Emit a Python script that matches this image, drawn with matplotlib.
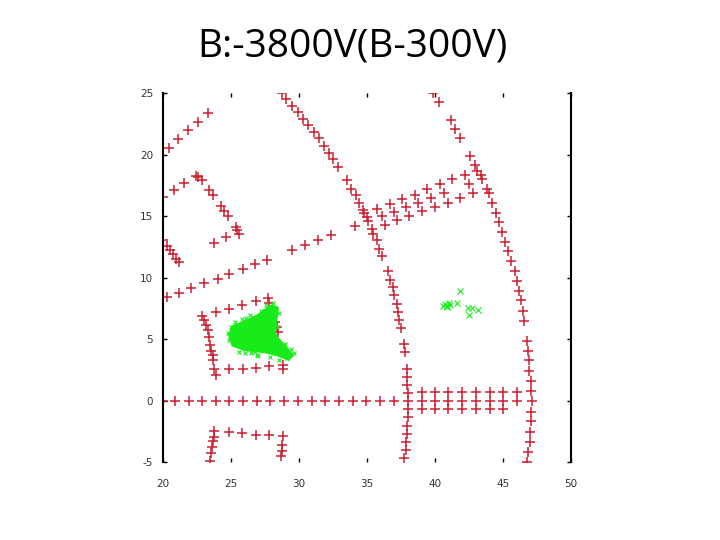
import matplotlib
matplotlib.use("Agg")
import matplotlib.pyplot as plt

title = "B:-3800V(B-300V)"
x_ticks = [20, 25, 30, 35, 40, 45, 50]
y_ticks = [-5, 0, 5, 10, 15, 20, 25]
y_tick_labels = ["-5", "0", "5", "10", "15", "20", "25"]

# red electrode points (data coordinates)
red_x = [
    # upper-left arc
    23.29, 22.60, 21.86, 21.13, 20.44,
    # second arc
    20.0, 20.83, 21.57, 22.40, 22.60, 22.85, 23.38, 23.70, 24.24, 24.49, 24.80, 25.35, 25.46, 25.59,
    24.63, 23.75,
    # left diagonal
    20.02, 20.32, 20.51, 20.76, 20.96, 21.18,
    # rising line
    20.27, 21.20, 22.06, 23.04, 24.02, 24.88, 25.86, 26.76, 27.67,
    29.51, 30.46, 31.42, 32.33, 34.14,
    # big arc
    28.73, 29.04, 29.46, 29.90, 30.32, 30.68, 31.13, 31.47, 31.84, 32.23, 32.52, 32.89,
    33.55, 33.82, 34.17, 34.43, 34.73, 34.80, 34.98, 35.10, 35.39, 35.46, 35.71, 35.90, 36.13,
    36.52, 36.69, 36.89, 37.01, 37.18, 37.26, 37.35, 37.50, 37.72, 37.82, 37.92, 37.96, 37.96,
    38.04, 38.04, 38.04, 37.99, 37.96, 37.92, 37.87, 37.85, 37.74,
    # right arc
    39.88, 40.29, 41.15, 41.49, 41.86, 42.60, 42.94, 43.11, 43.38, 43.43, 43.80, 43.95, 44.21,
    44.49, 44.73, 44.95, 45.17, 45.37, 45.59, 45.86, 46.01, 46.18, 46.32, 46.49, 46.57, 46.79,
    46.86, 46.93, 46.93, 47.04, 47.06, 47.11, 47.04, 47.04, 46.99, 46.99, 46.86, 46.79,
    # crossing lines
    35.76, 36.09, 36.29, 36.69, 36.99, 37.18, 37.60, 37.85, 38.11, 38.53, 38.77, 39.07,
    39.43, 39.71, 40.00, 40.37, 40.66, 40.93, 41.27, 41.86, 42.23, 42.53, 42.82,
    # box around blob
    23.90, 24.85, 25.81, 26.82, 27.74, 27.79, 28.24, 28.36, 28.48,
    22.85, 23.01, 23.14, 23.29, 23.38, 23.46, 23.53, 23.65, 23.70, 23.75, 23.88,
    24.85, 25.86, 26.82, 27.82, 28.80, 28.80,
    # zero row
    20.0, 20.88, 21.93, 22.85, 23.90, 24.88, 25.90, 26.89, 27.87, 28.90, 29.95, 30.98,
    31.91, 32.96, 33.95, 34.93, 35.96, 37.01,
    # right grid
    39.02, 39.02, 39.02, 40.0, 40.0, 40.0, 40.98, 40.98, 40.98, 42.01, 42.01, 42.01,
    43.01, 43.01, 43.01, 44.04, 44.04, 44.04, 45.02, 45.02, 45.02, 46.01, 46.01,
    # bottom box
    23.77, 24.88, 25.83, 26.82, 27.82, 28.80, 23.77, 23.70, 23.63, 23.53, 23.46,
    28.77, 28.73, 28.65,
]
red_y = [
    23.37, 22.63, 22.00, 21.25, 20.51,
    16.57, 17.11, 17.74, 18.31, 18.15, 17.93, 17.11, 16.71, 15.81, 15.43, 15.00, 14.12, 13.85, 13.59,
    13.31, 12.82,
    13.04, 12.58, 12.22, 11.90, 11.55, 11.27,
    8.42, 8.78, 9.18, 9.56, 9.92, 10.33, 10.70, 11.14, 11.47,
    12.28, 12.63, 13.04, 13.45, 14.18,
    25.0, 24.51, 23.96, 23.45, 22.88, 22.41, 21.87, 21.33, 20.70, 20.16, 19.64, 19.01,
    17.93, 17.25, 16.71, 16.08, 15.48, 15.22, 14.94, 14.59, 13.94, 13.59, 13.04, 12.36, 11.76,
    10.51, 9.84, 9.23, 8.56, 7.88, 7.20, 6.58, 5.93, 4.62, 3.99, 2.53, 1.90, 1.28,
    0.63, 0.0, -0.68, -1.30, -2.04, -2.71, -3.34, -4.02, -4.67,
    25.0, 24.26, 22.82, 22.09, 21.33, 19.89, 19.15, 18.69, 18.39, 18.01, 17.25, 16.85, 16.08,
    15.30, 14.53, 13.72, 12.93, 12.14, 11.35, 10.57, 9.72, 8.91, 8.15, 7.28, 6.46, 4.83,
    4.02, 3.26, 2.44, 1.63, 0.76, 0.0, -0.95, -1.69, -2.53, -3.40, -4.21, -4.97,
    15.62, 15.00, 14.32, 16.03, 15.35, 14.67, 16.38, 15.75, 15.00, 16.76, 16.11, 15.40,
    17.20, 16.49, 15.75, 17.58, 16.85, 16.11, 17.99, 16.52, 18.39, 17.66, 16.85,
    7.20, 7.47, 7.74, 8.09, 8.37, 7.96, 6.38, 5.97, 5.57,
    6.87, 6.52, 6.11, 5.70, 5.16, 4.56, 4.07, 3.67, 3.26, 2.58, 2.09,
    2.53, 2.58, 2.66, 2.80, 2.93, 2.58,
    0.0, 0.0, 0.0, 0.0, 0.0, 0.0, 0.0, 0.0, 0.0, 0.0, 0.0, 0.0,
    0.0, 0.0, 0.0, 0.0, 0.0, 0.0,
    0.69, 0.0, -0.72, 0.69, 0.0, -0.72, 0.69, 0.0, -0.72, 0.69, 0.0, -0.72,
    0.69, 0.0, -0.72, 0.69, 0.0, -0.72, 0.69, 0.0, -0.72, 0.69, 0.0,
    -2.50, -2.55, -2.67, -2.77, -2.80, -2.91, -2.93, -3.32, -3.75, -4.30, -4.95,
    -3.59, -4.07, -4.54,
]

# dense green cloud outline (data coordinates)
blob_x = [27.99, 28.36, 28.24, 28.11, 28.36, 29.46, 29.21, 28.48, 27.50, 26.03, 25.17, 24.93, 25.17, 26.03, 27.01, 27.63]
blob_y = [7.64, 7.50, 6.41, 5.60, 5.05, 3.69, 3.42, 3.75, 4.02, 4.18, 4.55, 5.32, 5.95, 6.35, 6.88, 7.40]

# fuzzy green points around the cloud
fuzz_x = [24.8, 24.85, 25.0, 25.3, 25.6, 26.1, 26.5, 26.4, 27.2, 27.6, 28.1, 28.5, 28.7, 29.1, 29.6, 29.4,
          28.5, 27.9, 26.9, 26.0, 25.4, 27.0, 28.4, 25.8, 26.8, 29.0]
fuzz_y = [5.5, 4.9, 6.0, 6.4, 3.95, 6.75, 3.85, 7.0, 7.25, 7.75, 7.9, 7.1, 4.3, 3.5, 3.85, 4.2,
          3.3, 3.55, 3.7, 3.85, 6.15, 3.65, 6.0, 6.6, 3.95, 4.6]

# small green cluster on the right
green_x = [41.84, 40.86, 40.59, 41.03, 40.71, 41.64, 42.70, 42.43, 43.18, 42.52, 40.88, 41.10]
green_y = [8.91, 7.69, 7.66, 7.91, 7.88, 7.96, 7.56, 7.50, 7.33, 6.98, 7.58, 7.74]

RED = "#cc1f2f"
GREEN = "#19ea19"

fig = plt.figure(figsize=(7.2, 5.4), dpi=100)
ax = fig.add_axes([163 / 720, 1 - 462 / 540, (571 - 163) / 720, (462 - 93.3) / 540])

ax.fill(blob_x, blob_y, color=GREEN, edgecolor=GREEN, linewidth=3, zorder=3)
ax.plot(fuzz_x, fuzz_y, linestyle="none", marker="x", markersize=3.5, mew=0.8, color=GREEN, zorder=3)
ax.plot(green_x, green_y, linestyle="none", marker="x", markersize=4.5, mew=0.8, color=GREEN, zorder=3)
ax.plot(red_x, red_y, linestyle="none", marker="+", markersize=6.5, mew=1.1, color=RED, zorder=2)

ax.set_xlim(20, 50)
ax.set_ylim(-5, 25)
ax.set_xticks(x_ticks)
ax.set_yticks(y_ticks)
ax.set_yticklabels(y_tick_labels)
for s in ["top", "bottom"]:
    ax.spines[s].set_visible(False)
for s in ["left", "right"]:
    ax.spines[s].set_linewidth(1.5)
    ax.spines[s].set_color("black")
ax.tick_params(axis="both", direction="in", length=3, width=1, colors="black",
               top=True, right=True, labelsize=7.5, labelcolor="#333333")
ax.tick_params(axis="x", pad=12)
ax.tick_params(axis="y", pad=7)

fig.text(352 / 720, 1 - 47 / 540, title, ha="center", va="center",
         fontsize=28, family="Open Sans", color="black")

fig.savefig("out.png", dpi=100)
